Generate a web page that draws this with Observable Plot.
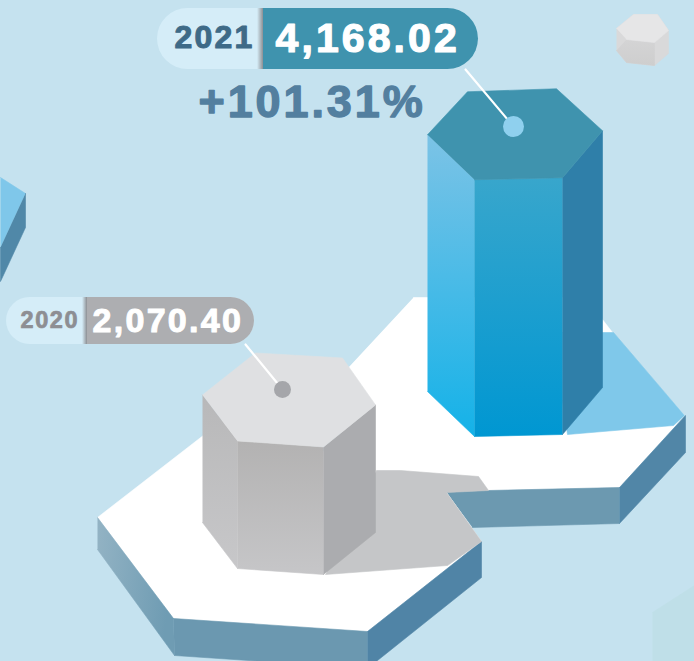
<!DOCTYPE html>
<html>
<head>
<meta charset="utf-8">
<script src="https://cdn.jsdelivr.net/npm/d3@7"></script>
<script src="https://cdn.jsdelivr.net/npm/@observablehq/plot@0.6"></script>
<style>html,body{margin:0;padding:0;background:#c5e2ef;overflow:hidden}svg{display:block}</style>
</head>
<body>
<div id="chart"></div>
<script>
// ---- chart values ----
const years = ["2020", "2021"];
const values = [2070.40, 4168.02];
const valueLabels = ["2,070.40", "4,168.02"];
const changeLabel = "+101.31%";

// ---- illustration geometry (pixel space of the x/y scales) ----
const W = 694, H = 661;
const unitsToPx = 0.0616;              // prism height per value unit
const prismBases = [
  [[202,522],[255,480],[342,485],[375,532],[323,574],[237,568]],
  [[427,391],[467,348],[556,345],[602,387],[562,434],[474,436]]
];
const FONT = "'Liberation Sans', Arial, sans-serif";

const polys = [];
const add = (pts, fill) => polys.push(Plot.line(pts, {x: d => d[0], y: d => d[1], fill, stroke: fill, strokeWidth: 0.6}));

// background decorations
add([[652,612],[694,585],[694,661],[652,661]], "#bfdfe8");
add([[0,177],[25,193],[0,247]], "#7fc7ea");
add([[25,193],[25,227],[0,281],[0,247]], "#5088a8");
// small grey prism
add([[616,28],[633,14],[657,14],[668,30],[668,53],[654,65],[626,62],[616,50]], "#d9d9da");
add([[626,39],[654,42],[654,65],[626,62],[616,50]], "url(#smallFront)");
add([[616,28],[633,14],[657,14],[668,30],[654,42],[626,39]], "#e6e6e7");

// blue plate
add([[413,297],[585,297],[612,332],[684,415],[619,487],[488,490],[378,472],[330,420],[348,367]], "#ffffff");
add([[562,332],[613,332],[684,415],[673,425],[567,434],[562,400]], "#7fc8ea");
add([[446,492],[488,490],[619,487],[619,523],[472,527]], "#6c99b0");
add([[619,487],[685,415],[685,452],[619,523]], "#5186a7");

// grey plate
add([[97,517],[226,417],[378,470],[446,492],[481,541],[367,631],[173,618]], "#ffffff");
add([[97,517],[173,618],[174,655],[97,549]], "url(#plateLeft)");
add([[173,618],[367,631],[367,668],[174,655]], "#6b98b0");
add([[367,631],[481,541],[481,577],[367,668]], "#5084a6");
// grey shadow
add([[325,574],[447,565],[481,541],[446,492],[488,490],[478,476],[400,470],[376,470]], "#c5c6c8");

// prisms, raised from their bases by the value
const prismStyles = [
  {top: "#dfe0e2", left: "url(#greyLeft)", front: "url(#greyFront)", right: "#abacaf"},
  {top: "#3f93ae", left: "url(#blueLeft)", front: "url(#blueFront)", right: "#2f7fa9"}
];
const pxHeights = values.map(v => v * unitsToPx);
prismBases.forEach((b, i) => {
  const t = b.map(([x, y]) => [x, y - pxHeights[i]]);
  const s = prismStyles[i];
  add([t[0], t[5], b[5], b[0]], s.left);
  add([t[5], t[4], b[4], b[5]], s.front);
  add([t[4], t[3], b[3], b[4]], s.right);
  add(t, s.top);
});

// connectors and dots
const connectors = [
  {pts: [[245,344],[282,389]], dot: [282,389], r: 8.5, fill: "#a5a6aa"},
  {pts: [[465,69],[513,126]], dot: [513,126], r: 10.5, fill: "#8fd0ee"}
];
// label pills
const pills = [
  {x1: 6, x2: 254, y1: 297, y2: 344, split: 87, sep: 5, color: "#adaeb1", light: "#d5edf8"},
  {x1: 157, x2: 478, y1: 8, y2: 69, split: 263, sep: 6, color: "#3f93ae", light: "#d5edf8"}
];
const spaced = (ls) => (index, scales, channels, dim, ctx, next) => {
  const g = next(index, scales, channels, dim, ctx);
  g.setAttribute("letter-spacing", ls);
  return g;
};
const label = (str, x, y, size, fill, ls, sw) => Plot.text([str], {
  x: () => x, y: () => y, text: d => d, fill, stroke: fill, strokeWidth: sw, fontSize: size, fontWeight: 700,
  fontFamily: FONT, textAnchor: "start", lineAnchor: "middle", render: spaced(ls)
});

const pillMarks = pills.flatMap(p => {
  const row = [p];
  const h = p.y2 - p.y1;
  return [
    Plot.rect(row, {x1: "x1", x2: "x2", y1: "y1", y2: "y2", fill: "light", rx: h / 2}),
    Plot.rect(row, {x1: d => d.split - 30, x2: "x2", y1: "y1", y2: "y2", fill: "color", rx: h / 2}),
    Plot.rect(row, {x1: d => d.split - 30, x2: "split", y1: "y1", y2: "y2", fill: "light"}),
    Plot.rect(row, {x1: d => d.split - d.sep, x2: "split", y1: "y1", y2: "y2", fill: "url(#sep)"})
  ];
});

const defs = () => {
  const el = document.createElementNS("http://www.w3.org/2000/svg", "defs");
  const grad = (id, a, b, x2 = 0, y2 = 1) =>
    `<linearGradient id="${id}" x1="0" y1="0" x2="${x2}" y2="${y2}"><stop offset="0" stop-color="${a}"/><stop offset="1" stop-color="${b}"/></linearGradient>`;
  el.innerHTML =
    grad("blueLeft", "#7cc3e6", "#14b2e8") +
    grad("blueFront", "#38a6cc", "#0097d2") +
    grad("greyLeft", "#b8b8b9", "#c7c7c9") +
    grad("greyFront", "#b3b2b2", "#c6c6c8") +
    grad("plateLeft", "#93b3c4", "#6f9cb3", 1, 0.2) +
    grad("smallFront", "#d4d4d5", "#cecece") +
    grad("sep", "#d5edf8", "#8d8f93", 1, 0);
  return el;
};

const plot = Plot.plot({
  width: W, height: H, margin: 0,
  x: {domain: [0, W], range: [0, W], axis: null},
  y: {domain: [0, H], range: [0, H], axis: null},
  style: {background: "#c5e2ef"},
  marks: [
    defs,
    ...polys,
    ...connectors.flatMap(c => [
      Plot.line(c.pts, {x: d => d[0], y: d => d[1], stroke: "#ffffff", strokeWidth: 2.2}),
      Plot.dot([c.dot], {x: d => d[0], y: d => d[1], r: c.r, fill: c.fill})
    ]),
    ...pillMarks,
    label(years[0], 20, 320, 23.5, "#8d8e93", 1.6, 0.7),
    label(valueLabels[0], 92, 321, 34, "#ffffff", 2.3, 1),
    label(years[1], 174, 37, 32, "#3e6a87", 2.2, 1),
    label(valueLabels[1], 275, 38, 41, "#ffffff", 3.1, 1.2),
    label(changeLabel, 198, 102, 45, "#537f9f", 2.9, 1.3)
  ]
});
document.getElementById("chart").appendChild(plot);
</script>
</body>
</html>
